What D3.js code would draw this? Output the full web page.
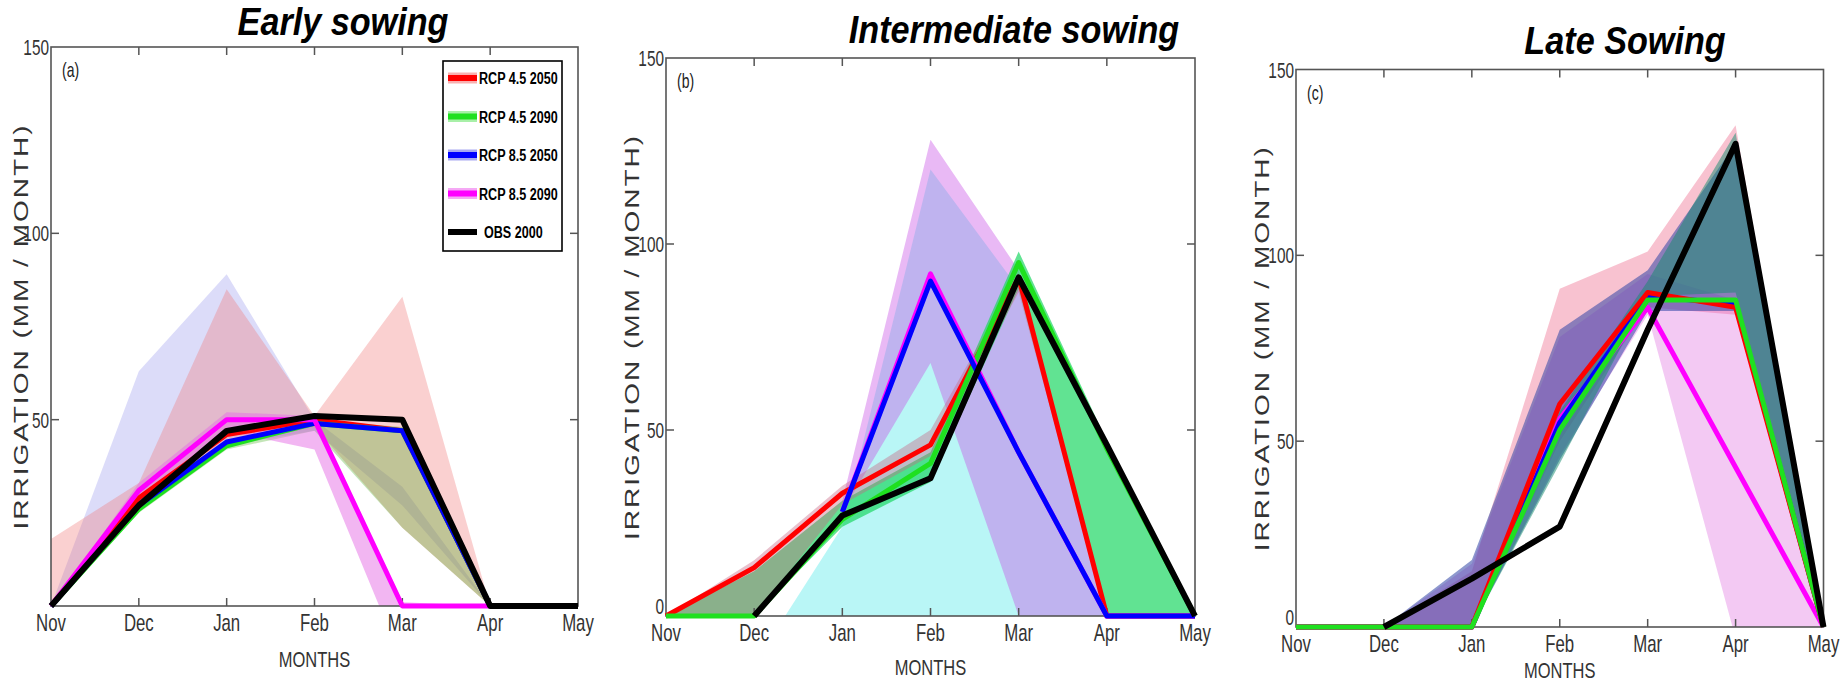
<!DOCTYPE html>
<html><head><meta charset="utf-8">
<script src="https://cdn.jsdelivr.net/npm/d3@7"></script>
<style>
body{margin:0;background:#fff}
svg{display:block}
text{font-family:"Liberation Sans",Arial,sans-serif}
</style>
</head><body>
<svg id="chart" width="1846" height="682"></svg>
<script>
// ---------------- DATA ----------------
const months = ["Nov","Dec","Jan","Feb","Mar","Apr","May"];
const seriesNames = ["RCP 4.5 2050","RCP 4.5 2090","RCP 8.5 2050","RCP 8.5 2090","OBS 2000"];
const panelTitles = ["Early sowing","Intermediate sowing","Late Sowing"];
const panelTags = ["(a)","(b)","(c)"];
const yTickValues = [0,50,100,150];
const xAxisTitle = "MONTHS";
const yAxisTitle = "IRRIGATION (MM / MONTH)";

// (a) Early sowing - mean lines
const earlyRcp45_2050 = [0,29,46,50,47,0,0];
const earlyRcp45_2090 = [0,26,43,49,47,0,0];
const earlyRcp85_2050 = [0,27,44,49,47,0,0];
const earlyRcp85_2090 = [0,31,50,50,0,0,0];
const earlyObs2000    = [0,27,47,51,50,0,0];
// (a) spread bands (min / max)
const earlyBandRcp45_2050Lo = [0,27,44,48,21,0,0];
const earlyBandRcp45_2050Hi = [18,33,85,51,83,0,0];
const earlyBandRcp45_2090Lo = [0,25,42,47,21,0,0];
const earlyBandRcp45_2090Hi = [0,27,44,50,48,0,0];
const earlyBandRcp85_2050Lo = [0,26,43,47,27,0,0];
const earlyBandRcp85_2050Hi = [0,63,89,50,32,0,0];
const earlyBandRcp85_2090Lo = [0,28,47,42,-15,0,0];
const earlyBandRcp85_2090Hi = [0,33,52,51,1,0,0];

// (b) Intermediate sowing - mean lines
const interRcp45_2050 = [0,13,33,46,91,0,0];
const interRcp45_2090 = [0,0,26,41,95,45,0];
const interRcp85_2050 = [null,null,28,90,44,0,0];
const interRcp85_2090 = [null,null,28,92,44,0,0];
const interObs2000    = [null,0,27,37,91,46,0];
// (b) spread bands
const interBandRcp45_2050Lo = [0,0,30,43,87,0,0];
const interBandRcp45_2050Hi = [0,15,35,50,92,0,0];
const interBandRcp45_2090Lo = [0,0,24,36,88,0,0];
const interBandRcp45_2090Hi = [0,12,31,44,98,47,0];
const interBandRcp85_2050Lo = [0,-13,-10,-10,-10,0,0];
const interBandRcp85_2050Hi = [0,-13,24,120,88,0,0];
const interBandRcp85_2090Lo = [null,null,28,68,0,0,0];
const interBandRcp85_2090Hi = [null,null,31,128,93,0,0];

// (c) Late sowing - mean lines
const lateRcp45_2050 = [0,0,0,60,90,86,0];
const lateRcp45_2090 = [0,0,0,53,88,88,0];
const lateRcp85_2050 = [0,0,0,55,89,87,0];
const lateRcp85_2090 = [0,0,0,56,86,43,0];
const lateObs2000    = [null,0,13,27,80,130,0];
// (c) spread bands
const lateBandRcp45_2050Lo = [0,0,0,50,86,84,0];
const lateBandRcp45_2050Hi = [0,0,15,91,101,135,0];
const lateBandRcp45_2090Lo = [0,0,0,44,89,90,0];
const lateBandRcp45_2090Hi = [0,0,0,58,93,133,0];
const lateBandRcp85_2050Lo = [0,0,0,45,85,85,0];
const lateBandRcp85_2050Hi = [0,0,18,80,96,130,0];
const lateBandRcp85_2090Lo = [0,0,0,46,84,-3,0];
const lateBandRcp85_2090Hi = [0,0,17,78,95,88,0];

// ---------------- STYLE / LAYOUT ----------------
const lineColors = ["#ff0000","#1fe01f","#0000ff","#ff00ff","#000000"];
const lineWidths = [5,5,5,5,6];
const haloColors = ["#f9b0b0","#a8f0a8","#a8a8f0","#f5a8f5",null];
const TX = 0.7; // horizontal squeeze of all glyphs

const panelBoxes = [
  {x0:51,  x1:578,   y0:47,   y1:606},
  {x0:666, x1:1195,  y0:58,   y1:616},
  {x0:1296,x1:1823.5,y0:69.5, y1:627}
];
const titlePos = [{x:343,y:35},{x:1014,y:43},{x:1625,y:54}];
const yLabelX = [21,632,1262];
const xLabelY = [667,675,678];

// band fill styles per panel: [series index, colour, opacity] in drawing order
const bandStyles = [
  [[2,"rgb(140,140,235)",0.30],[0,"rgb(240,120,120)",0.35],[1,"rgb(60,170,20)",0.30],[3,"rgb(230,110,230)",0.5]],
  [[2,"rgb(100,235,235)",0.45],[3,"rgb(200,80,230)",0.40],[1,"rgb(30,215,100)",0.70],[0,"rgb(200,100,130)",0.40]],
  [[0,"rgb(240,120,150)",0.45],[3,"rgb(220,90,220)",0.33],[2,"rgb(50,70,165)",0.55],[1,"rgb(20,140,110)",0.50]]
];
const lineOrder = [[0,1,2,3,4],[0,1,3,2,4],[3,2,0,1,4]];

// ---------------- BUILD TABLES ----------------
const panelLines = [
  [earlyRcp45_2050,earlyRcp45_2090,earlyRcp85_2050,earlyRcp85_2090,earlyObs2000],
  [interRcp45_2050,interRcp45_2090,interRcp85_2050,interRcp85_2090,interObs2000],
  [lateRcp45_2050,lateRcp45_2090,lateRcp85_2050,lateRcp85_2090,lateObs2000]
];
const panelBands = [
  [[earlyBandRcp45_2050Lo,earlyBandRcp45_2050Hi],[earlyBandRcp45_2090Lo,earlyBandRcp45_2090Hi],
   [earlyBandRcp85_2050Lo,earlyBandRcp85_2050Hi],[earlyBandRcp85_2090Lo,earlyBandRcp85_2090Hi]],
  [[interBandRcp45_2050Lo,interBandRcp45_2050Hi],[interBandRcp45_2090Lo,interBandRcp45_2090Hi],
   [interBandRcp85_2050Lo,interBandRcp85_2050Hi],[interBandRcp85_2090Lo,interBandRcp85_2090Hi]],
  [[lateBandRcp45_2050Lo,lateBandRcp45_2050Hi],[lateBandRcp45_2090Lo,lateBandRcp45_2090Hi],
   [lateBandRcp85_2050Lo,lateBandRcp85_2050Hi],[lateBandRcp85_2090Lo,lateBandRcp85_2090Hi]]
];

const svg = d3.select("#chart");

function sText(g, x, y, str, o) {
  o = o || {};
  const t = g.append("text")
    .attr("transform", `translate(${x},${y}) scale(${o.sx ?? TX},1)`)
    .attr("text-anchor", o.anchor || "start")
    .attr("font-size", o.size || 22)
    .attr("fill", o.fill || "#333")
    .text(str);
  if (o.weight) t.attr("font-weight", o.weight);
  if (o.style) t.attr("font-style", o.style);
  return t;
}

panelBoxes.forEach((b, p) => {
  const g = svg.append("g");
  const x = d3.scalePoint().domain(months).range([b.x0, b.x1]);
  const y = d3.scaleLinear().domain([0,150]).range([b.y1, b.y0]);

  const clipId = "clip" + p;
  g.append("clipPath").attr("id", clipId).append("rect")
    .attr("x", b.x0).attr("y", b.y0).attr("width", b.x1 - b.x0).attr("height", b.y1 - b.y0);

  // bands
  const bg = g.append("g").attr("clip-path", `url(#${clipId})`);
  bandStyles[p].forEach(([s, col, op]) => {
    const [lo, hi] = panelBands[p][s];
    const rows = months.map((m, i) => ({m, lo: lo[i], hi: hi[i]}));
    const area = d3.area()
      .defined(d => d.lo != null && d.hi != null)
      .x(d => x(d.m)).y0(d => y(d.lo)).y1(d => y(d.hi));
    bg.append("path").datum(rows).attr("d", area)
      .attr("fill", col).attr("fill-opacity", op).attr("stroke", "none");
  });

  // axis frame
  g.append("rect").attr("x", b.x0).attr("y", b.y0)
    .attr("width", b.x1 - b.x0).attr("height", b.y1 - b.y0)
    .attr("fill", "none").attr("stroke", "#555").attr("stroke-width", 1.6);

  // inward ticks (top/bottom, left/right)
  const tickLen = 8;
  months.slice(1, -1).forEach(m => {
    g.append("line").attr("x1", x(m)).attr("x2", x(m)).attr("y1", b.y1).attr("y2", b.y1 - tickLen)
      .attr("stroke", "#555").attr("stroke-width", 1.5);
    g.append("line").attr("x1", x(m)).attr("x2", x(m)).attr("y1", b.y0).attr("y2", b.y0 + tickLen)
      .attr("stroke", "#555").attr("stroke-width", 1.5);
  });
  yTickValues.slice(1, -1).forEach(v => {
    g.append("line").attr("x1", b.x0).attr("x2", b.x0 + tickLen).attr("y1", y(v)).attr("y2", y(v))
      .attr("stroke", "#555").attr("stroke-width", 1.5);
    g.append("line").attr("x1", b.x1).attr("x2", b.x1 - tickLen).attr("y1", y(v)).attr("y2", y(v))
      .attr("stroke", "#555").attr("stroke-width", 1.5);
  });

  // lines
  lineOrder[p].forEach(s => {
    const vals = panelLines[p][s];
    const rows = months.map((m, i) => ({m, v: vals[i]}));
    const line = d3.line().defined(d => d.v != null).x(d => x(d.m)).y(d => y(d.v));
    g.append("path").datum(rows).attr("d", line)
      .attr("fill", "none").attr("stroke", lineColors[s]).attr("stroke-width", lineWidths[s])
      .attr("stroke-linejoin", "round").attr("stroke-linecap", "butt");
  });

  // x tick labels
  months.forEach(m => sText(g, x(m), b.y1 + 25, m, {anchor: "middle", size: 24}));
  // y tick labels
  yTickValues.forEach(v => {
    if (p === 0 && v === 0) return;
    sText(g, b.x0 - 2, y(v) + (v === 0 ? -2 : 8), String(v), {anchor: "end", size: 22});
  });

  // panel tag
  sText(g, b.x0 + 11, b.y0 + 30, panelTags[p], {size: 20, fill: "#222"});

  // titles
  sText(g, titlePos[p].x, titlePos[p].y, panelTitles[p],
    {anchor: "middle", size: 38, weight: "bold", style: "italic", fill: "#000", sx: 0.9});

  // axis titles
  sText(g, (b.x0 + b.x1) / 2, xLabelY[p], xAxisTitle, {anchor: "middle", size: 22, sx: 0.75});
  g.append("text")
    .attr("transform", `translate(${yLabelX[p]},${(b.y0 + b.y1) / 2}) rotate(-90) scale(1,0.75)`)
    .attr("text-anchor", "middle").attr("dominant-baseline", "central")
    .attr("font-size", 28).attr("letter-spacing", 2).attr("fill", "#333")
    .text(yAxisTitle);
});

// ---------------- LEGEND (panel a) ----------------
const lg = svg.append("g");
const legBox = {x: 443, y: 61, w: 119, h: 190};
lg.append("rect").attr("x", legBox.x).attr("y", legBox.y).attr("width", legBox.w).attr("height", legBox.h)
  .attr("fill", "#fff").attr("stroke", "#000").attr("stroke-width", 1.6);
const legY = d3.scalePoint().domain(seriesNames).range([legBox.y + 17, legBox.y + 171]);
seriesNames.forEach((name, s) => {
  const yy = legY(name);
  if (haloColors[s]) {
    lg.append("line").attr("x1", 448).attr("x2", 477).attr("y1", yy).attr("y2", yy)
      .attr("stroke", haloColors[s]).attr("stroke-width", 11);
  }
  lg.append("line").attr("x1", 448).attr("x2", 477).attr("y1", yy).attr("y2", yy)
    .attr("stroke", lineColors[s]).attr("stroke-width", 6);
  sText(lg, s === 4 ? 484 : 479, yy + 6, name, {size: 17, weight: "bold", fill: "#000", sx: 0.74});
});
</script>
</body></html>
